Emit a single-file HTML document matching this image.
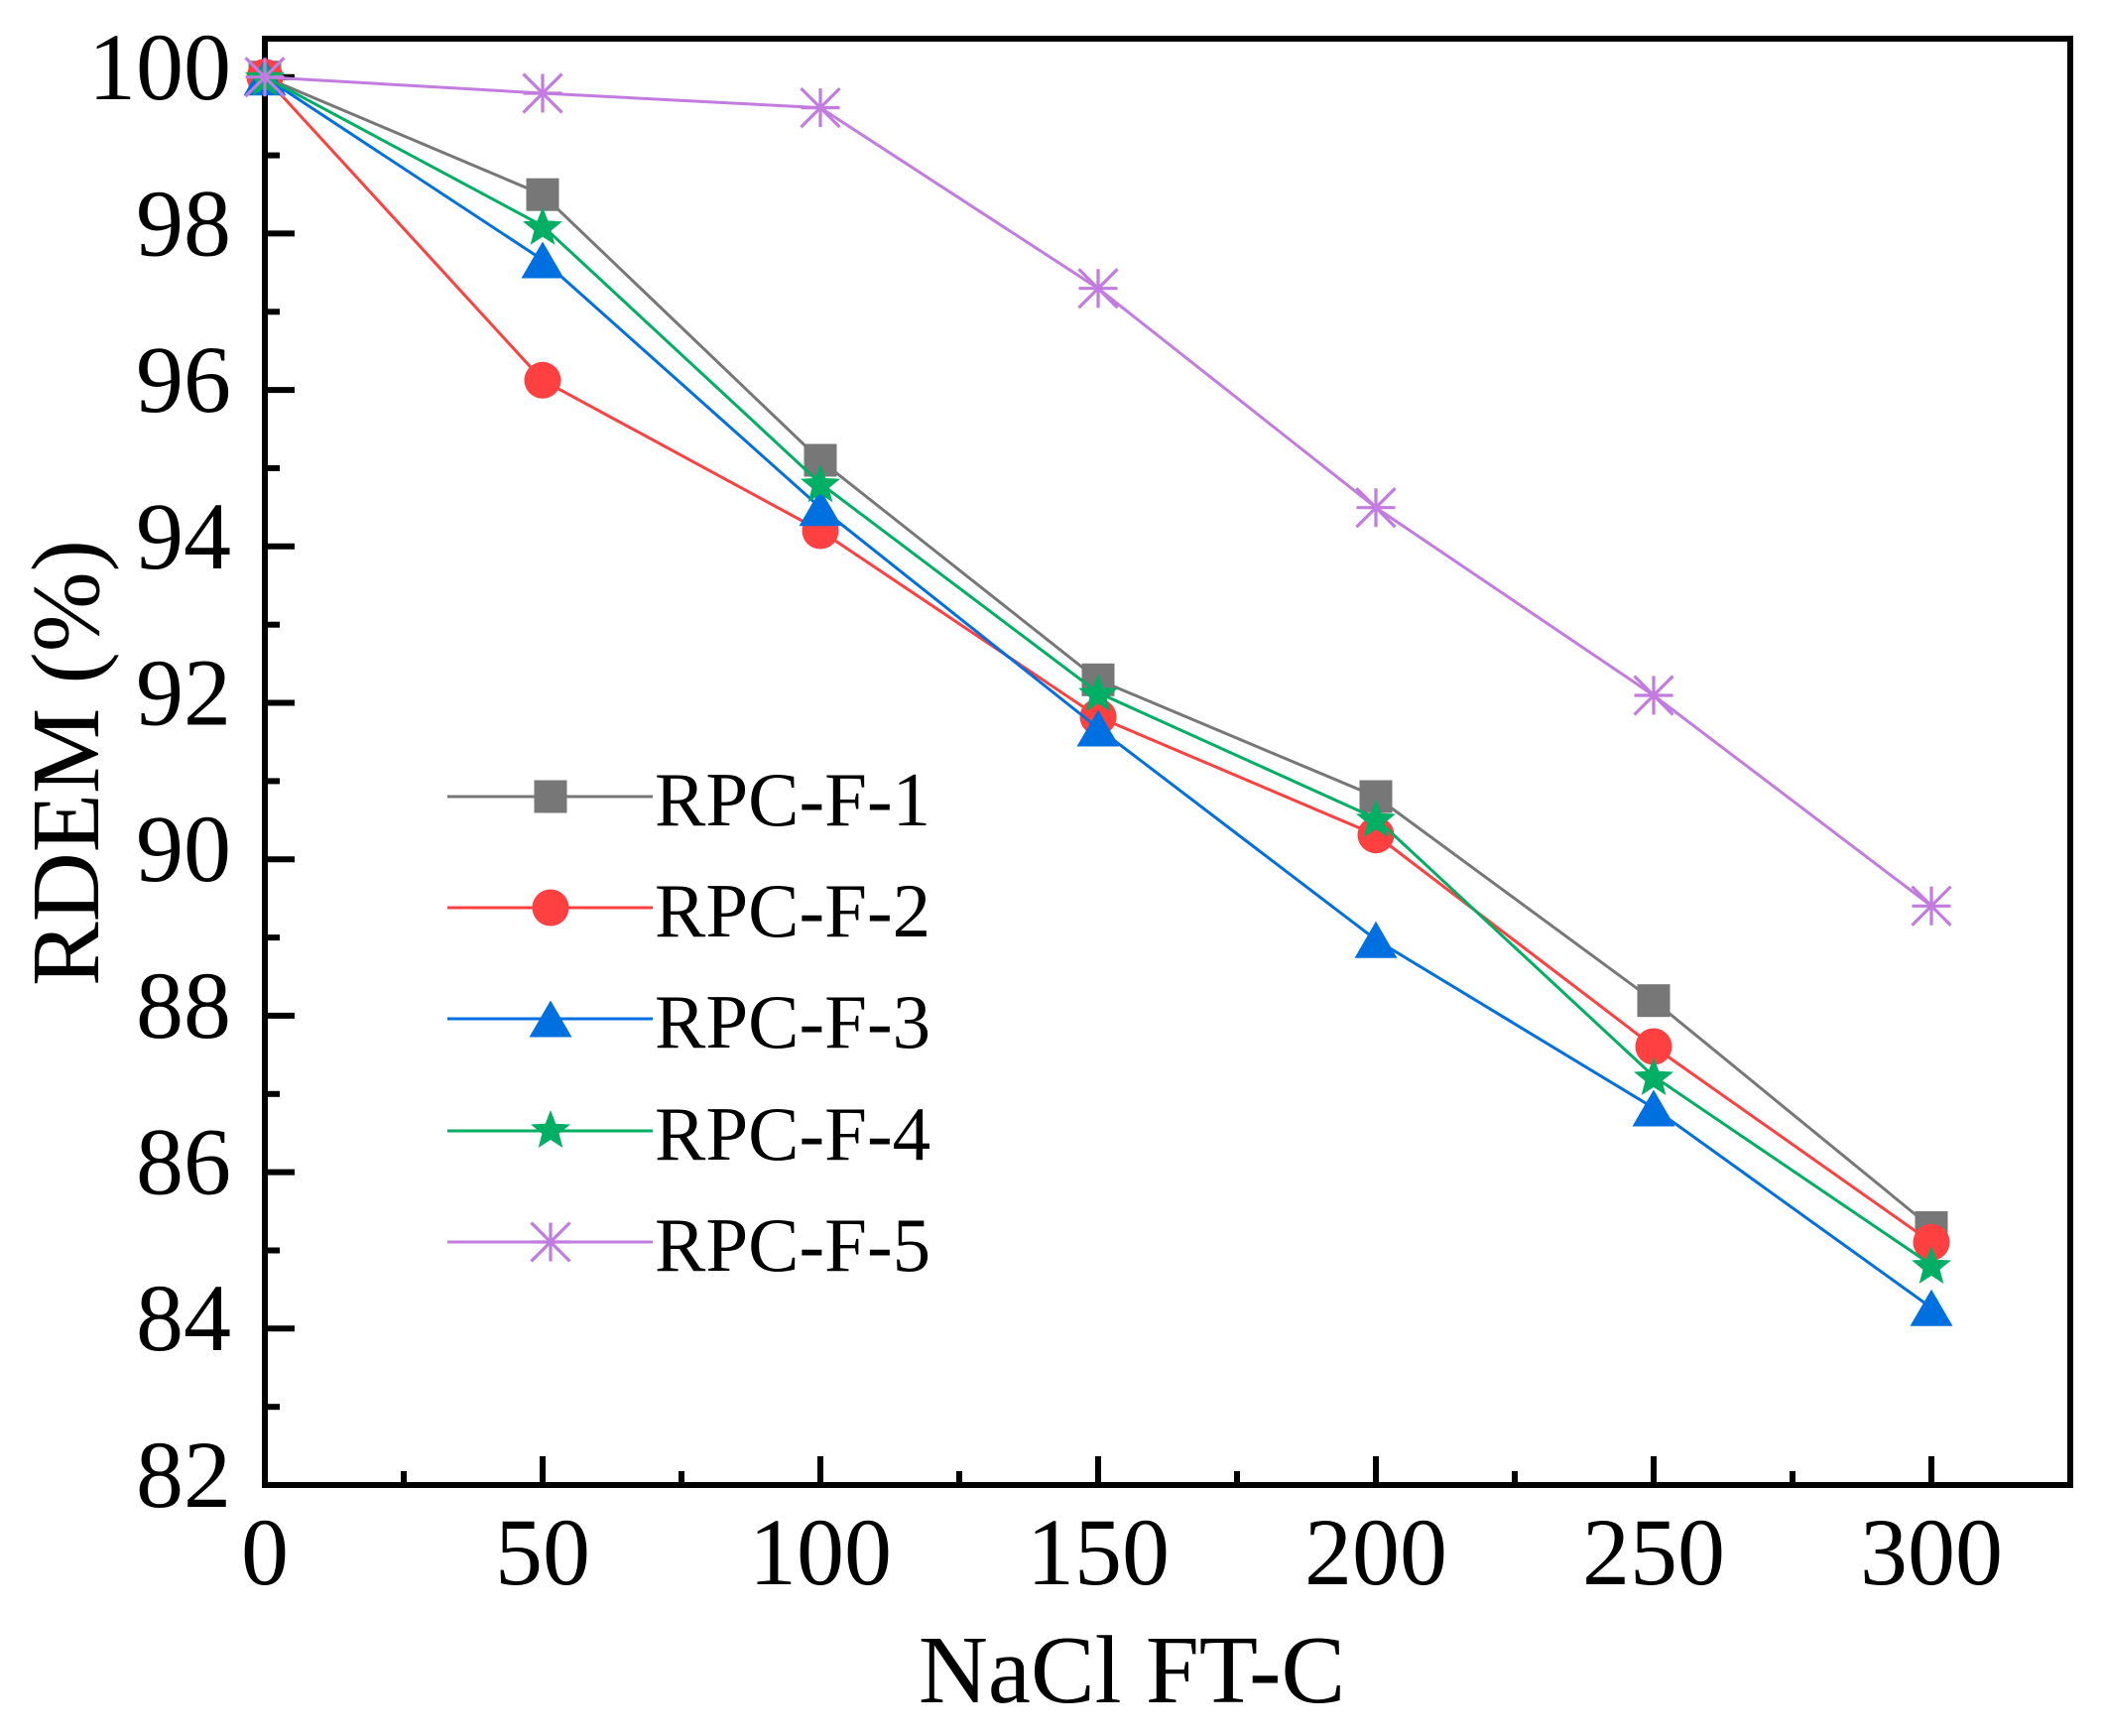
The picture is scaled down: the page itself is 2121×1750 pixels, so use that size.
<!DOCTYPE html>
<html>
<head>
<meta charset="utf-8">
<style>
  html,body{margin:0;padding:0;background:#fff;}
  svg{display:block;}
  text{font-family:"Liberation Serif","Times New Roman",serif;fill:#000;}
</style>
</head>
<body>
<svg width="2121" height="1750" viewBox="0 0 2121 1750" xmlns="http://www.w3.org/2000/svg">
  <defs>
    <g id="sq"><rect x="-16.5" y="-16.5" width="33" height="33" fill="#777777"/></g>
    <g id="ci"><circle cx="0" cy="0" r="18.5" fill="#FF4040"/></g>
    <g id="tr"><polygon points="0,-18.5 21.5,18.5 -21.5,18.5" fill="#0070E0"/></g>
    <g id="st"><polygon transform="translate(0,2)" points="0,-21 5.29,-7.28 19.97,-6.49 8.56,2.78 12.34,16.99 0,9 -12.34,16.99 -8.56,2.78 -19.97,-6.49 -5.29,-7.28" fill="#00AF64"/></g>
    <g id="as"><path d="M-19.5,0 H19.5 M0,-19.5 V19.5 M-19.5,-19.5 L19.5,19.5 M-19.5,19.5 L19.5,-19.5" stroke="#C27CE0" stroke-width="3.2" fill="none"/></g>
  </defs>

  <!-- axes frame -->
  <rect x="267" y="39" width="1820" height="1458" fill="none" stroke="#000" stroke-width="6"/>

  <!-- y ticks -->
  <g stroke="#000" stroke-width="6">
    <line x1="267" y1="77.7" x2="297" y2="77.7"/>
    <line x1="267" y1="156.6" x2="282" y2="156.6"/>
    <line x1="267" y1="235.4" x2="297" y2="235.4"/>
    <line x1="267" y1="314.3" x2="282" y2="314.3"/>
    <line x1="267" y1="393.1" x2="297" y2="393.1"/>
    <line x1="267" y1="472.0" x2="282" y2="472.0"/>
    <line x1="267" y1="550.8" x2="297" y2="550.8"/>
    <line x1="267" y1="629.7" x2="282" y2="629.7"/>
    <line x1="267" y1="708.5" x2="297" y2="708.5"/>
    <line x1="267" y1="787.4" x2="282" y2="787.4"/>
    <line x1="267" y1="866.2" x2="297" y2="866.2"/>
    <line x1="267" y1="945.1" x2="282" y2="945.1"/>
    <line x1="267" y1="1023.9" x2="297" y2="1023.9"/>
    <line x1="267" y1="1102.8" x2="282" y2="1102.8"/>
    <line x1="267" y1="1181.6" x2="297" y2="1181.6"/>
    <line x1="267" y1="1260.5" x2="282" y2="1260.5"/>
    <line x1="267" y1="1339.3" x2="297" y2="1339.3"/>
    <line x1="267" y1="1418.2" x2="282" y2="1418.2"/>
  </g>
  <!-- x ticks -->
  <g stroke="#000" stroke-width="6">
    <line x1="407" y1="1497" x2="407" y2="1483"/>
    <line x1="547" y1="1497" x2="547" y2="1468"/>
    <line x1="687" y1="1497" x2="687" y2="1483"/>
    <line x1="827" y1="1497" x2="827" y2="1468"/>
    <line x1="967" y1="1497" x2="967" y2="1483"/>
    <line x1="1107" y1="1497" x2="1107" y2="1468"/>
    <line x1="1247" y1="1497" x2="1247" y2="1483"/>
    <line x1="1387" y1="1497" x2="1387" y2="1468"/>
    <line x1="1527" y1="1497" x2="1527" y2="1483"/>
    <line x1="1667" y1="1497" x2="1667" y2="1468"/>
    <line x1="1807" y1="1497" x2="1807" y2="1483"/>
    <line x1="1947" y1="1497" x2="1947" y2="1468"/>
  </g>

  <!-- y tick labels -->
  <g font-size="96" text-anchor="end">
    <text x="233" y="100">100</text>
    <text x="233" y="257.5">98</text>
    <text x="233" y="415">96</text>
    <text x="233" y="573">94</text>
    <text x="233" y="730.5">92</text>
    <text x="233" y="888">90</text>
    <text x="233" y="1046">88</text>
    <text x="233" y="1203.5">86</text>
    <text x="233" y="1361">84</text>
    <text x="233" y="1519">82</text>
  </g>
  <!-- x tick labels -->
  <g font-size="96" text-anchor="middle">
    <text x="267" y="1597">0</text>
    <text x="547" y="1597">50</text>
    <text x="827" y="1597">100</text>
    <text x="1107" y="1597">150</text>
    <text x="1387" y="1597">200</text>
    <text x="1667" y="1597">250</text>
    <text x="1947" y="1597">300</text>
  </g>

  <!-- axis titles -->
  <text x="1141" y="1716" font-size="97" text-anchor="middle">NaCl FT-C</text>
  <text transform="translate(99,769) rotate(-90)" font-size="97" text-anchor="middle">RDEM (%)</text>

  <!-- series 1 gray -->
  <polyline fill="none" stroke="#777777" stroke-width="3" points="267,77.7 547,196.2 827,464 1107,685.3 1387,803 1667,1008.7 1947,1237.5"/>
  <use href="#sq" x="267" y="77.7"/><use href="#sq" x="547" y="196.2"/><use href="#sq" x="827" y="464"/><use href="#sq" x="1107" y="685.3"/><use href="#sq" x="1387" y="803"/><use href="#sq" x="1667" y="1008.7"/><use href="#sq" x="1947" y="1237.5"/>

  <!-- series 2 red -->
  <polyline fill="none" stroke="#FF4040" stroke-width="3" points="267,77.7 547,383.3 827,535 1107,722.7 1387,841.7 1667,1055 1947,1252.3"/>
  <use href="#ci" x="267" y="77.7"/><use href="#ci" x="547" y="383.3"/><use href="#ci" x="827" y="535"/><use href="#ci" x="1107" y="722.7"/><use href="#ci" x="1387" y="841.7"/><use href="#ci" x="1667" y="1055"/><use href="#ci" x="1947" y="1252.3"/>

  <!-- series 3 blue -->
  <polyline fill="none" stroke="#0070E0" stroke-width="3" points="267,77.7 547,262 827,511.7 1107,734 1387,947.3 1667,1117 1947,1318.3"/>
  <use href="#tr" x="267" y="77.7"/><use href="#tr" x="547" y="262"/><use href="#tr" x="827" y="511.7"/><use href="#tr" x="1107" y="734"/><use href="#tr" x="1387" y="947.3"/><use href="#tr" x="1667" y="1117"/><use href="#tr" x="1947" y="1318.3"/>

  <!-- series 4 green -->
  <polyline fill="none" stroke="#00AF64" stroke-width="3" points="267,77.7 547,227.7 827,487.3 1107,698.3 1387,825 1667,1085 1947,1275"/>
  <use href="#st" x="267" y="77.7"/><use href="#st" x="547" y="227.7"/><use href="#st" x="827" y="487.3"/><use href="#st" x="1107" y="698.3"/><use href="#st" x="1387" y="825"/><use href="#st" x="1667" y="1085"/><use href="#st" x="1947" y="1275"/>

  <!-- series 5 purple -->
  <polyline fill="none" stroke="#C27CE0" stroke-width="3" points="267,77.7 547,94 827,108.6 1107,290.7 1387,511.7 1667,701 1947,913.3"/>
  <use href="#as" x="267" y="77.7"/><use href="#as" x="547" y="94"/><use href="#as" x="827" y="108.6"/><use href="#as" x="1107" y="290.7"/><use href="#as" x="1387" y="511.7"/><use href="#as" x="1667" y="701"/><use href="#as" x="1947" y="913.3"/>

  <!-- legend -->
  <line x1="451" y1="803" x2="658" y2="803" stroke="#777777" stroke-width="3"/>
  <use href="#sq" x="555" y="803"/>
  <text x="660" y="832" font-size="77">RPC-F-1</text>

  <line x1="451" y1="915" x2="658" y2="915" stroke="#FF4040" stroke-width="3"/>
  <use href="#ci" x="555" y="915"/>
  <text x="660" y="944" font-size="77">RPC-F-2</text>

  <line x1="451" y1="1027" x2="658" y2="1027" stroke="#0070E0" stroke-width="3"/>
  <use href="#tr" x="555" y="1027"/>
  <text x="660" y="1056" font-size="77">RPC-F-3</text>

  <line x1="451" y1="1140" x2="658" y2="1140" stroke="#00AF64" stroke-width="3"/>
  <use href="#st" x="555" y="1138"/>
  <text x="660" y="1169" font-size="77">RPC-F-4</text>

  <line x1="451" y1="1252" x2="658" y2="1252" stroke="#C27CE0" stroke-width="3"/>
  <use href="#as" x="555" y="1252"/>
  <text x="660" y="1281" font-size="77">RPC-F-5</text>
</svg>
</body>
</html>
